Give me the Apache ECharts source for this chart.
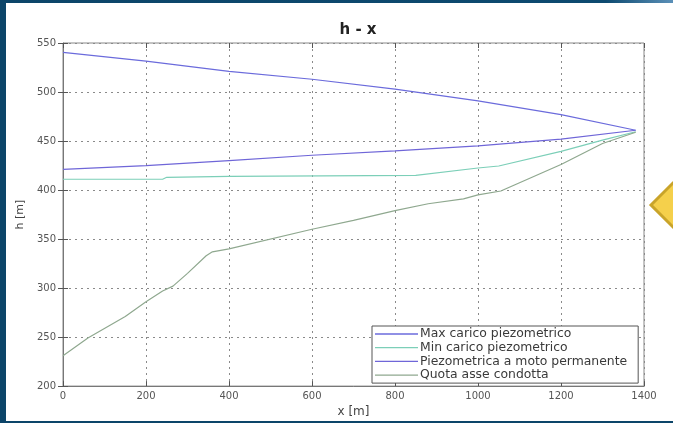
<!DOCTYPE html>
<html>
<head>
<meta charset="utf-8">
<script src="https://cdn.jsdelivr.net/npm/echarts@6/dist/echarts.min.js"></script>
<style>
    html, body { margin: 0; padding: 0; }
    #main { width: 673px; height: 423px; }
</style>
</head>
<body>
<div id="main"></div>
<script>
var seriesNames = ['Max carico piezometrico', 'Min carico piezometrico', 'Piezometrica a moto permanente', 'Quota asse condotta'];

var xMax = [0, 200, 400, 600, 800, 1000, 1200, 1380];
var hMax = [540.5, 531.5, 521, 513, 503, 491, 477, 461];

var xMin = [0, 240, 250, 400, 850, 1000, 1050, 1200, 1300, 1380];
var hMin = [411, 411, 413, 414, 415, 422.5, 424.5, 439.5, 451, 459.5];

var xPerm = [0, 200, 400, 600, 800, 1000, 1200, 1380];
var hPerm = [421, 425, 430, 435.5, 440, 445, 452, 461];

var xQuota = [0, 60, 150, 200, 240, 265, 300, 345, 360, 400, 600, 700, 800, 880, 965, 1000, 1055, 1200, 1300, 1380];
var hQuota = [231, 249, 271, 286, 297, 302, 315, 333, 337, 340, 360, 369, 379, 386, 391, 395, 399, 426, 447.5, 459];

var xTicks = [0, 200, 400, 600, 800, 1000, 1200, 1400];
var hTicks = [200, 250, 300, 350, 400, 450, 500, 550];

var colors = ['#6b6bdc', '#7ccfb8', '#6f66d8', '#8fa88f'];

function pairs(xs, ys) {
    var out = [];
    for (var i = 0; i < xs.length; i++) {
        out.push([xs[i], ys[i]]);
    }
    return out;
}

var myChart = echarts.init(document.getElementById('main'));

var gridLine = { show: true, lineStyle: { color: '#8a8a8a', type: [2, 4], width: 1 } };
var tickStyle = { show: true, inside: true, length: 5, lineStyle: { color: '#555' } };
var labelStyle = { color: '#555', fontSize: 10, fontFamily: 'DejaVu Sans', formatter: function (v) { return String(v); } };

var legendData = seriesNames.map(function (n) {
    return { name: n, icon: 'path://M0,0 L40,0 L40,1.2 L0,1.2 Z' };
});

var option = {
    backgroundColor: '#ffffff',
    animation: false,
    title: {
        text: 'h - x',
        left: 353,
        top: 18,
        textAlign: 'center',
        textStyle: { fontSize: 15, fontWeight: 'bold', color: '#222', fontFamily: 'DejaVu Sans' }
    },
    grid: {
        left: 63, right: 29, top: 43, bottom: 36,
        show: true, borderColor: '#888', borderWidth: 1
    },
    legend: {
        orient: 'vertical',
        left: 372,
        top: 326,
        data: legendData,
        itemWidth: 43,
        itemHeight: 12,
        itemGap: 1.7,
        padding: [2, 11, 2, 3],
        borderColor: '#555',
        borderWidth: 1,
        backgroundColor: '#fff',
        textStyle: { fontSize: 12.4, lineHeight: 12, color: '#3a3a3a', fontFamily: 'DejaVu Sans', padding: [0, 0, 0, -3] }
    },
    xAxis: [
        {
            type: 'value',
            min: 0, max: 1400, interval: 200,
            name: 'x [m]',
            nameLocation: 'middle',
            nameGap: 16,
            nameTextStyle: { fontSize: 12, color: '#444', fontFamily: 'DejaVu Sans' },
            axisLine: { show: true, lineStyle: { color: '#777' } },
            axisTick: tickStyle,
            axisLabel: Object.assign({ margin: 5 }, labelStyle),
            splitLine: gridLine
        },
        {
            type: 'value', position: 'top',
            min: 0, max: 1400, interval: 200,
            axisLine: { show: false },
            axisTick: tickStyle,
            axisLabel: { show: false },
            splitLine: { show: false }
        }
    ],
    yAxis: [
        {
            type: 'value',
            min: 200, max: 550, interval: 50,
            name: 'h [m]',
            nameLocation: 'middle',
            nameGap: 36,
            nameTextStyle: { fontSize: 11, color: '#444', fontFamily: 'DejaVu Sans' },
            axisLine: { show: true, lineStyle: { color: '#777' } },
            axisTick: tickStyle,
            axisLabel: Object.assign({ margin: 7 }, labelStyle),
            splitLine: gridLine
        },
        {
            type: 'value', position: 'right',
            min: 200, max: 550, interval: 50,
            axisLine: { show: false },
            axisTick: tickStyle,
            axisLabel: { show: false },
            splitLine: { show: false }
        }
    ],
    series: [
        { name: seriesNames[0], type: 'line', symbol: 'none', data: pairs(xMax, hMax), lineStyle: { width: 1.2, color: colors[0] }, itemStyle: { color: colors[0] } },
        { name: seriesNames[1], type: 'line', symbol: 'none', data: pairs(xMin, hMin), lineStyle: { width: 1.2, color: colors[1] }, itemStyle: { color: colors[1] } },
        { name: seriesNames[2], type: 'line', symbol: 'none', data: pairs(xPerm, hPerm), lineStyle: { width: 1.2, color: colors[2] }, itemStyle: { color: colors[2] } },
        { name: seriesNames[3], type: 'line', symbol: 'none', data: pairs(xQuota, hQuota), lineStyle: { width: 1.2, color: colors[3] }, itemStyle: { color: colors[3] } }
    ],
    graphic: [
        // cornice blu della slide
        { type: 'rect', left: 0, top: 0, shape: { width: 6, height: 423 }, style: { fill: '#0c4569' }, z: 100 },
        { type: 'rect', left: 0, top: 0, shape: { width: 673, height: 3 },
          style: { fill: new echarts.graphic.LinearGradient(0, 0, 1, 0, [
              { offset: 0, color: '#0c4569' }, { offset: 0.9, color: '#0d4a70' }, { offset: 1, color: '#5b90b8' }]) }, z: 100 },
        { type: 'rect', left: 0, top: 421, shape: { width: 673, height: 2 }, style: { fill: '#0c4569' }, z: 100 },
        // rombo giallo a destra
        { type: 'polygon', shape: { points: [[651, 205], [690, 166], [729, 205], [690, 244]] },
          style: { fill: '#f5d04b', stroke: '#c9a42a', lineWidth: 3 }, z: 100 }
    ]
};

myChart.setOption(option);
</script>
</body>
</html>
